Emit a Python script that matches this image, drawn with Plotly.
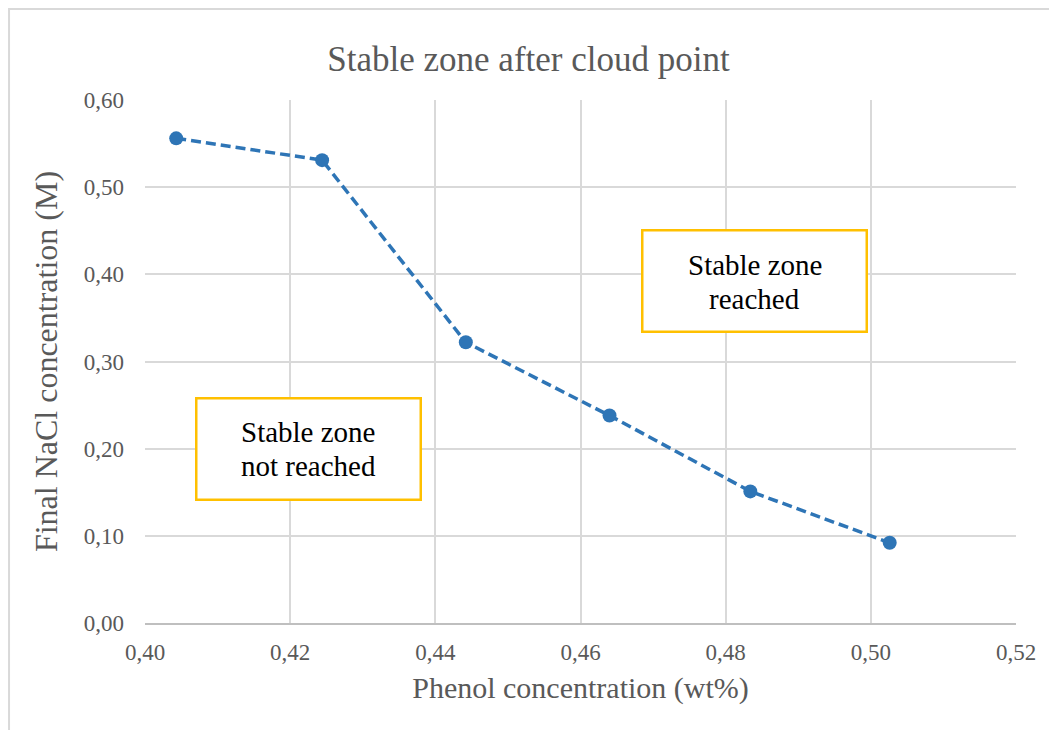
import plotly.graph_objects as go

phenol = [0.4043, 0.4244, 0.4442, 0.4640, 0.4834, 0.5026]
nacl = [0.556, 0.531, 0.322, 0.238, 0.151, 0.092]

x_ticks = [0.40, 0.42, 0.44, 0.46, 0.48, 0.50, 0.52]
x_tick_labels = ["0,40", "0,42", "0,44", "0,46", "0,48", "0,50", "0,52"]
y_ticks = [0.0, 0.1, 0.2, 0.3, 0.4, 0.5, 0.6]
y_tick_labels = ["0,00", "0,10", "0,20", "0,30", "0,40", "0,50", "0,60"]

title = "Stable zone after cloud point"
x_title = "Phenol concentration (wt%)"
y_title = "Final NaCl concentration (M)"
label_not = ["Stable zone", "not reached"]
label_yes = ["Stable zone", "reached"]

FONT = "Liberation Serif"
GRAY = "#595959"

fig = go.Figure()
fig.add_trace(go.Scatter(
    x=phenol, y=nacl, mode="lines+markers",
    line=dict(color="#2E75B6", width=3.5, dash="10px,5px"),
    marker=dict(color="#2E75B6", size=14),
    showlegend=False,
))

fig.update_layout(
    width=1041, height=722,
    margin=dict(l=137, r=33, t=92, b=107),
    paper_bgcolor="white", plot_bgcolor="white",
    font=dict(family=FONT, color=GRAY),
    title=dict(text=title, x=0.5, xanchor="center", y=0.93, yanchor="middle",
               font=dict(family=FONT, size=35, color=GRAY)),
    xaxis=dict(range=[0.40, 0.52], tickvals=x_ticks, ticktext=x_tick_labels,
               showgrid=True, gridcolor="#D9D9D9", gridwidth=1.5,
               showline=True, linecolor="#BFBFBF", linewidth=1.5, mirror=False,
               zeroline=False, ticks="", ticklabelstandoff=8,
               tickfont=dict(size=23, color=GRAY),
               title=dict(text=x_title, font=dict(size=30, color=GRAY), standoff=13)),
    yaxis=dict(range=[0, 0.6], tickvals=y_ticks, ticktext=y_tick_labels,
               showgrid=True, gridcolor="#D9D9D9", gridwidth=1.5,
               showline=False, zeroline=False, ticks="", ticklabelstandoff=20,
               tickfont=dict(size=23, color=GRAY),
               title=dict(text=y_title, font=dict(size=32, color=GRAY), standoff=16)),
)

# outer chart border
fig.add_shape(type="rect", xref="paper", yref="paper",
              x0=-0.1561, x1=1.2, y0=-0.4, y1=1.174,
              line=dict(color="#D9D9D9", width=2), layer="below")

# text boxes
boxes = [
    (0.4225, 0.1994, label_not, 0.2189, 0.1799),
    (0.4840, 0.3928, label_yes, 0.4106, 0.3715),
]
for bx, by, lines, y1, y2 in boxes:
    fig.add_annotation(x=bx, y=by, xref="x", yref="y", text="",
                       showarrow=False, width=220, height=97,
                       bordercolor="#FFC000", borderwidth=2.5, bgcolor="white")
    for ly, txt in zip((y1, y2), lines):
        fig.add_annotation(x=bx, y=ly, xref="x", yref="y", text=txt,
                           showarrow=False, yanchor="middle",
                           font=dict(family=FONT, size=29, color="black"))

fig.write_html("out.html")
